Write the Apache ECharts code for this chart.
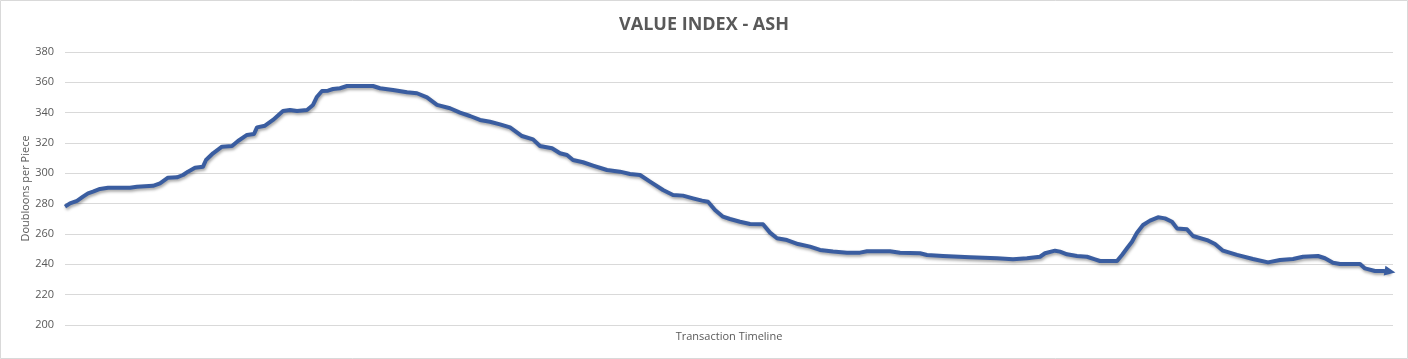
<!DOCTYPE html>
<html>
<head>
<meta charset="utf-8">
<script src="https://cdn.jsdelivr.net/npm/echarts@6/dist/echarts.min.js"></script>
<style>
  html, body { margin: 0; padding: 0; background: #fff; }
  #chart { width: 1408px; height: 359px; }
</style>
</head>
<body>
<div id="chart"></div>
<script>
const titleText = 'VALUE INDEX - ASH';
const xAxisName = 'Transaction Timeline';
const yAxisName = 'Doubloons per Piece';
const yTicks = [200, 220, 240, 260, 280, 300, 320, 340, 360, 380];

// transaction position along the timeline
const txIndex = [
  0, 5, 12, 18, 23, 28, 35, 43, 65, 72,
  88, 95, 103, 112, 118, 123, 130, 138, 141, 148,
  157, 167, 173, 182, 189, 192, 200, 208, 218, 225,
  232, 242, 248, 252, 257, 263, 268, 275, 282, 308,
  315, 328, 342, 352, 362, 372, 385, 395, 405, 415,
  425, 435, 445, 457, 468, 475, 487, 495, 502, 508,
  518, 528, 542, 555, 565, 575, 585, 598, 608, 618,
  628, 637, 643, 650, 658, 665, 675, 685, 698, 705,
  712, 722, 733, 745, 755, 768, 782, 795, 802, 825,
  835, 855, 862, 878, 905, 932, 948, 962, 975, 980,
  990, 995, 1002, 1012, 1022, 1030, 1035, 1052, 1057, 1062,
  1067, 1072, 1078, 1085, 1093, 1100, 1107, 1112, 1122, 1128,
  1142, 1150, 1158, 1172, 1188, 1203, 1215, 1228, 1238, 1253,
  1260, 1268, 1275, 1295, 1300, 1310, 1318, 1325
];
// doubloons per piece
const price = [
  278.0, 280.2, 281.8, 284.6, 286.8, 287.9, 289.7, 290.5, 290.5, 291.2,
  291.8, 293.4, 297.1, 297.4, 298.9, 301.1, 303.7, 304.4, 308.8, 313.2,
  317.6, 318.0, 321.3, 325.3, 325.9, 330.3, 331.4, 335.2, 341.1, 341.8,
  341.1, 341.8, 345.1, 350.5, 354.3, 354.5, 355.6, 356.1, 357.6, 357.6,
  356.1, 355.0, 353.4, 352.8, 350.1, 345.1, 342.9, 340.0, 337.8, 335.2,
  334.0, 332.3, 330.3, 324.6, 322.4, 318.0, 316.5, 313.2, 312.1, 308.8,
  307.3, 305.1, 302.2, 301.1, 299.6, 298.9, 294.5, 289.0, 285.7, 285.3,
  283.5, 282.0, 281.3, 275.8, 271.4, 269.9, 268.1, 266.6, 266.4, 260.9,
  257.2, 256.0, 253.4, 251.7, 249.5, 248.4, 247.7, 247.7, 248.6, 248.6,
  247.7, 247.3, 246.2, 245.5, 244.6, 244.0, 243.3, 244.0, 245.0, 247.3,
  249.0, 248.4, 246.6, 245.5, 245.0, 243.3, 242.2, 242.2, 246.2, 250.6,
  254.9, 260.9, 265.9, 268.8, 271.0, 270.3, 268.1, 263.7, 263.1, 258.7,
  256.0, 253.4, 249.0, 246.2, 243.5, 241.3, 242.9, 243.5, 245.0, 245.5,
  244.0, 241.1, 240.2, 240.2, 237.3, 235.6, 235.6, 235.2
];

const lineColor = '#3a5da0';
const data = txIndex.map((t, i) => {
  const item = { value: [t, price[i]] };
  if (i === txIndex.length - 1) {
    item.symbol = 'triangle';
    item.symbolSize = [10, 11];
    item.symbolRotate = -100;
    item.itemStyle = { color: lineColor, borderWidth: 0 };
  }
  return item;
});

const chart = echarts.init(document.getElementById('chart'), null, { renderer: 'canvas' });
chart.setOption({
  animation: false,
  backgroundColor: '#ffffff',
  textStyle: { fontFamily: '"Open Sans", "Noto Sans", sans-serif' },
  graphic: [{
    type: 'rect',
    shape: { x: 0.5, y: 0.5, width: 1407, height: 358 },
    style: { fill: 'none', stroke: '#d9d9d9', lineWidth: 1 },
    silent: true
  }],
  title: {
    text: titleText,
    left: 'center',
    top: 11,
    textStyle: { fontSize: 18, fontWeight: 'bold', color: '#595959', fontFamily: '"Open Sans", sans-serif' }
  },
  grid: { left: 65, right: 15, top: 52, bottom: 34, containLabel: false },
  xAxis: {
    type: 'value',
    min: 0,
    max: 1328,
    name: xAxisName,
    nameLocation: 'middle',
    nameGap: 6,
    nameMoveOverlap: false,
    nameTextStyle: { fontSize: 11, color: '#595959', verticalAlign: 'top' },
    axisLine: { show: false },
    axisTick: { show: false },
    axisLabel: { show: false },
    splitLine: { show: false }
  },
  yAxis: {
    type: 'value',
    min: yTicks[0],
    max: yTicks[yTicks.length - 1],
    interval: 20,
    name: yAxisName,
    nameLocation: 'middle',
    nameGap: 34,
    nameRotate: 90,
    nameMoveOverlap: false,
    nameTextStyle: { fontSize: 11, color: '#595959' },
    axisLine: { show: false },
    axisTick: { show: false },
    axisLabel: { fontSize: 11, color: '#595959', margin: 11 },
    splitLine: { show: true, lineStyle: { color: '#d9d9d9', width: 1 } }
  },
  series: [{
    type: 'line',
    data: data,
    symbol: 'none',
    showSymbol: true,
    lineStyle: {
      color: lineColor,
      width: 4,
      shadowColor: 'rgba(0,0,0,0.35)',
      shadowBlur: 3,
      shadowOffsetX: 1,
      shadowOffsetY: 2,
      join: 'round'
    },
    itemStyle: { color: lineColor }
  }]
});
</script>
</body>
</html>
